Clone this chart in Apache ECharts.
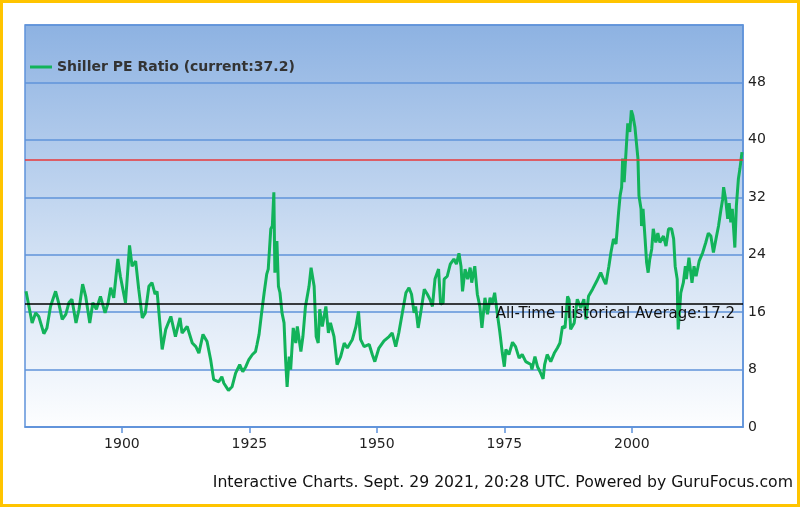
<!DOCTYPE html>
<html>
<head>
<meta charset="utf-8">
<script src="https://cdn.jsdelivr.net/npm/echarts@6/dist/echarts.min.js"></script>
<style>
  html, body { margin: 0; padding: 0; background: #fff; }
  #root { width: 794px; height: 501px; border: 3px solid #FFC400; }
</style>
</head>
<body>
<div id="root"></div>
<script>
// Shiller PE (decimal year, ratio)
const years = [
  1881.2, 1882.4, 1883.1, 1883.7, 1884.7, 1885.3, 1886.0, 1887.0, 1887.6, 1888.3,
  1889.0, 1889.6, 1890.2, 1891.0, 1891.6, 1892.3, 1892.9, 1893.7, 1894.3, 1895.0,
  1895.8, 1896.7, 1897.3, 1897.8, 1898.4, 1899.2, 1899.7, 1900.7, 1901.5, 1902.0,
  1902.7, 1903.3, 1904.0, 1904.6, 1905.3, 1905.9, 1906.5, 1906.9, 1907.9, 1908.6,
  1909.6, 1910.5, 1911.4, 1911.8, 1912.8, 1913.8, 1914.5, 1915.1, 1915.9, 1916.7,
  1917.4, 1918.0, 1919.0, 1919.6, 1920.0, 1920.9, 1921.6, 1922.3, 1923.1, 1923.7,
  1924.3, 1924.9, 1925.6, 1926.2, 1926.5, 1926.9, 1927.4, 1927.9, 1928.4, 1928.7,
  1929.2, 1929.5, 1929.8, 1930.0, 1930.4, 1930.7, 1931.0, 1931.4, 1931.8, 1932.1,
  1932.4, 1932.8, 1933.1, 1933.6, 1934.1, 1934.4, 1935.1, 1935.5, 1936.0, 1936.7,
  1937.1, 1937.7, 1938.1, 1938.5, 1938.8, 1939.3, 1940.0, 1940.5, 1940.9, 1941.6,
  1942.2, 1942.9, 1943.6, 1944.2, 1945.2, 1945.9, 1946.4, 1946.8, 1947.5, 1948.5,
  1949.1, 1949.6, 1950.4, 1951.4, 1952.4, 1953.0, 1953.7, 1954.3, 1955.0, 1955.7,
  1956.3, 1956.8, 1957.3, 1957.6, 1958.1, 1958.6, 1959.3, 1959.9, 1960.4, 1960.9,
  1961.4, 1962.1, 1962.5, 1963.0, 1963.2, 1963.8, 1964.4, 1965.1, 1965.6, 1966.1,
  1966.5, 1966.8, 1967.3, 1967.8, 1968.3, 1968.6, 1969.2, 1969.7, 1970.2, 1970.6,
  1971.2, 1971.7, 1972.2, 1972.6, 1973.1, 1973.6, 1974.1, 1974.6, 1975.0, 1975.3,
  1975.9, 1976.6, 1977.2, 1977.9, 1978.5, 1979.2, 1980.2, 1980.4, 1981.0, 1981.5,
  1982.0, 1982.6, 1982.9, 1983.4, 1984.1, 1984.8, 1985.4, 1985.9, 1986.4, 1986.9,
  1987.4, 1987.7, 1988.0, 1988.7, 1989.3, 1990.0, 1990.6, 1991.0, 1991.5, 1992.3,
  1993.1, 1993.9, 1994.6, 1994.9, 1995.5, 1995.9, 1996.4, 1996.9, 1997.4, 1997.7,
  1998.0, 1998.2, 1998.5, 1998.9, 1999.2, 1999.6, 1999.9, 2000.2, 2000.6, 2000.9,
  2001.2, 2001.4, 2001.8, 2001.9, 2002.2, 2002.6, 2002.9, 2003.2, 2003.5, 2003.9,
  2004.2, 2004.7, 2005.1, 2005.5, 2006.2, 2006.7, 2007.2, 2007.8, 2008.2, 2008.5,
  2008.9, 2009.0, 2009.1, 2009.6, 2010.1, 2010.5, 2010.7, 2011.2, 2011.8, 2012.2,
  2012.6, 2013.2, 2013.9, 2014.5, 2015.0, 2015.5, 2016.0, 2016.5, 2017.0, 2017.5,
  2017.8, 2018.0, 2018.4, 2018.8, 2019.1, 2019.4, 2019.7, 2020.2, 2020.5, 2020.9,
  2021.2, 2021.6
];
const peValues = [
  18.9, 14.5, 15.9, 15.4, 13.0, 13.8, 16.8, 18.9, 17.3, 15.0,
  15.7, 17.3, 17.8, 14.5, 16.4, 19.9, 18.2, 14.5, 17.3, 16.4,
  18.2, 15.9, 17.3, 19.4, 18.0, 23.4, 21.0, 17.3, 25.3, 22.4,
  23.1, 19.2, 15.2, 15.9, 19.6, 20.1, 18.5, 18.9, 10.8, 13.6,
  15.4, 12.6, 15.2, 13.1, 14.0, 11.7, 11.2, 10.3, 12.9, 11.9,
  9.4, 6.6, 6.3, 7.0, 6.1, 5.1, 5.6, 7.5, 8.7, 7.7,
  8.4, 9.4, 10.1, 10.5, 11.5, 12.9, 15.9, 18.7, 21.3, 22.0,
  27.6, 28.0, 32.7, 21.5, 25.9, 19.6, 18.7, 15.9, 14.5, 9.4,
  5.6, 9.8, 8.0, 13.8, 11.7, 14.0, 10.5, 12.6, 16.8, 19.6,
  22.2, 19.6, 12.6, 11.7, 16.4, 14.0, 16.8, 13.1, 14.5, 12.6,
  8.7, 9.8, 11.7, 11.0, 12.2, 14.0, 16.1, 12.2, 11.2, 11.5,
  10.1, 9.1, 11.0, 12.0, 12.6, 13.1, 11.2, 13.1, 15.9, 18.7,
  19.4, 18.5, 15.9, 16.8, 13.8, 15.9, 19.2, 18.5, 17.8, 16.8,
  20.6, 22.0, 17.1, 17.3, 20.6, 21.0, 22.7, 23.4, 22.7, 24.2,
  22.4, 18.9, 22.0, 20.6, 22.2, 20.1, 22.4, 18.5, 16.8, 13.8,
  18.0, 15.7, 18.0, 17.1, 18.7, 15.9, 13.3, 10.3, 8.4, 10.8,
  10.1, 11.8, 11.2, 9.6, 10.1, 9.1, 8.7, 8.0, 9.8, 8.4,
  7.7, 6.7, 8.7, 10.1, 9.1, 10.3, 11.0, 11.7, 14.0, 13.8,
  18.2, 17.7, 13.6, 14.5, 17.8, 16.6, 17.8, 15.0, 18.2, 19.2,
  20.3, 21.5, 20.3, 19.9, 22.4, 24.3, 26.2, 25.5, 29.9, 32.2,
  33.4, 37.4, 34.1, 38.8, 42.3, 41.1, 44.1, 43.4, 41.8, 42.0,
  37.4, 32.2, 30.4, 28.0, 30.4, 26.2, 22.9, 21.5, 23.3, 24.8,
  27.6, 25.7, 27.0, 25.7, 26.6, 25.2, 27.6, 27.6, 26.2, 22.4,
  20.6, 15.9, 13.6, 18.7, 20.1, 22.4, 20.6, 23.6, 20.1, 22.4,
  21.0, 23.1, 24.3, 25.7, 27.0, 26.6, 24.3, 26.2, 28.0, 30.4,
  31.7, 33.4, 31.7, 29.0, 31.2, 28.5, 30.4, 25.0, 30.8, 34.6,
  36.0, 38.3
];
const xTicks = [1900, 1925, 1950, 1975, 2000];
const currentPE = 37.2;
const averagePE = 17.2;

const seriesName = 'Shiller PE Ratio (current:' + currentPE + ')';
const blue = '#5F93DA';

let myCharts = echarts.init(document.getElementById('root'));

let option = {
    animation: false,
    textStyle: { fontFamily: 'DejaVu Sans' },
    grid: {
        left: 22, right: 54, top: 22, bottom: 77,
        show: true,
        borderColor: blue,
        borderWidth: 1.5,
        backgroundColor: new echarts.graphic.LinearGradient(0, 0, 0, 1, [
            { offset: 0, color: '#8DB2E2' },
            { offset: 0.55, color: '#CFDFF3' },
            { offset: 1, color: '#FDFEFF' }
        ])
    },
    legend: {
        left: 22, top: 52,
        icon: 'rect',
        itemWidth: 22, itemHeight: 3,
        itemGap: 6,
        textStyle: { fontSize: 14, fontWeight: 'bold', color: '#333' },
        data: [seriesName]
    },
    xAxis: {
        type: 'value',
        min: 1881,
        max: 2021.8,
        splitLine: { show: false },
        axisLine: { lineStyle: { color: blue, width: 1.5 } },
        axisTick: { customValues: xTicks, length: 6, lineStyle: { color: blue, width: 1.5 } },
        axisLabel: { customValues: xTicks, fontSize: 14, color: '#222', margin: 10, formatter: v => String(v) }
    },
    yAxis: {
        type: 'value',
        position: 'right',
        min: 0, max: 56, interval: 8,
        axisLine: { show: true, lineStyle: { color: blue, width: 1.5 } },
        axisTick: { show: false },
        axisLabel: { fontSize: 14, color: '#222', margin: 5, showMaxLabel: false },
        splitLine: { lineStyle: { color: blue, width: 1.5 } }
    },
    graphic: [{
        type: 'text',
        right: 4, top: 472,
        style: {
            text: 'Interactive Charts. Sept. 29 2021, 20:28 UTC. Powered by GuruFocus.com',
            fontSize: 15.7, fill: '#111', fontFamily: 'DejaVu Sans'
        }
    }],
    series: [
        {
            name: seriesName,
            type: 'line',
            data: years.map((y, i) => [y, peValues[i]]),
            showSymbol: false,
            lineStyle: { color: '#12B35A', width: 3 },
            itemStyle: { color: '#12B35A' },
            z: 3
        },
        {
            type: 'line',
            data: [],
            z: 5,
            markLine: {
                silent: true,
                symbol: 'none',
                data: [
                    { yAxis: currentPE, lineStyle: { color: '#E8393A', width: 1.5, type: 'solid' }, label: { show: false } },
                    {
                        yAxis: averagePE,
                        lineStyle: { color: '#000', width: 1.5, type: 'solid' },
                        label: {
                            position: 'insideEndBottom',
                            formatter: 'All-Time Historical Average:' + averagePE,
                            fontSize: 15, color: '#111', distance: [8, 3]
                        }
                    }
                ]
            }
        }
    ]
};
myCharts.setOption(option);
</script>
</body>
</html>
